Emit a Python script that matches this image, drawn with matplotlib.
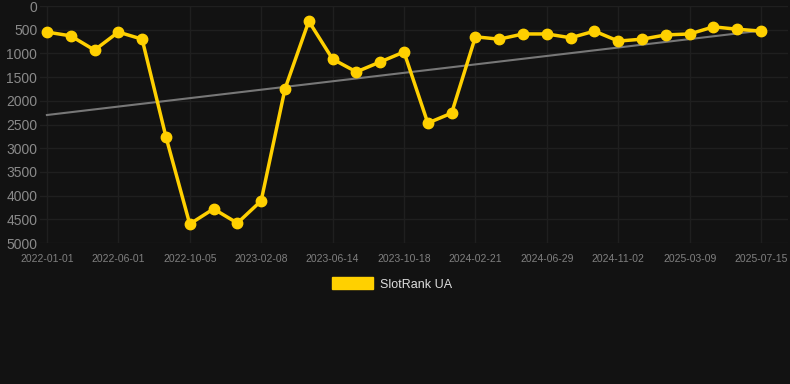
import matplotlib
matplotlib.use("Agg")
import matplotlib.pyplot as plt
import matplotlib.patches as mpatches
import numpy as np

plt.rcParams['font.family'] = ['Liberation Sans', 'DejaVu Sans']

# rank per snapshot (31 points, labels every 3rd point)
ranks = [550, 630, 930, 550, 700, 2760, 4600, 4280, 4580, 4110,
         1750, 320, 1120, 1390, 1180, 970, 2470, 2260, 650, 700,
         590, 590, 670, 530, 740, 700, 610, 590, 440, 490, 530]
tick_labels = ['2022-01-01', '2022-06-01', '2022-10-05', '2023-02-08', '2023-06-14',
               '2023-10-18', '2024-02-21', '2024-06-29', '2024-11-02', '2025-03-09',
               '2025-07-15']
trend_ends = [2300, 520]

bg = '#121212'
yellow = '#FFD000'

fig = plt.figure(figsize=(7.9, 3.84), dpi=100, facecolor=bg)
ax = fig.add_axes([40/790, 141/384, 748/790, 237/384], facecolor=bg)

x = np.arange(len(ranks))
ax.plot([x[0], x[-1]], trend_ends, color='#777777', lw=1.5, zorder=2)
ax.plot(x, ranks, color=yellow, lw=2.5, marker='o', ms=7.5, zorder=3)

ax.set_ylim(5000, 0)
ax.set_yticks(range(0, 5001, 500))
ax.set_xlim(-0.29, 31.13)
ax.set_xticks(x[::3])
ax.set_xticklabels(tick_labels)

ax.grid(True, color='#1f1f1f', lw=1)
ax.set_axisbelow(True)
for s in ax.spines.values():
    s.set_visible(False)
ax.tick_params(axis='y', length=0, pad=2, labelsize=10, labelcolor='#8a8a8a')
ax.tick_params(axis='x', length=0, pad=8, labelsize=7.5, labelcolor='#808080')

handle = mpatches.Patch(color=yellow, label='SlotRank UA')
fig.legend(handles=[handle], loc='center', bbox_to_anchor=(392/790, 1 - 284/384),
           frameon=False, handlelength=3.3, handleheight=1.1, handletextpad=0.5,
           fontsize=9, labelcolor='#dddddd')

fig.savefig('out.png', dpi=100, facecolor=bg)
